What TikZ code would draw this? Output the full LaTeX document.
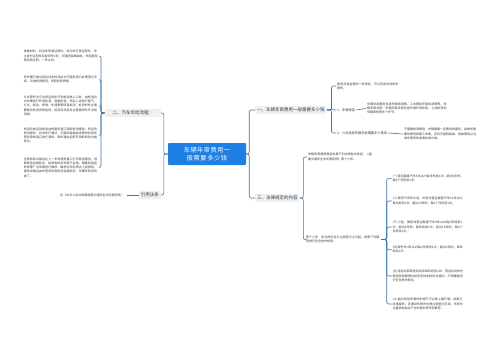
\documentclass[tikz,border=0pt]{standalone}
\usepackage{fontspec}
\setmainfont{Noto Sans CJK SC}
\XeTeXlinebreaklocale "zh"
\XeTeXlinebreakskip=0pt plus 0.5pt
\definecolor{rootblue}{HTML}{1E80E4}
\definecolor{linkblue}{HTML}{3A74AE}
\definecolor{boxgray}{HTML}{EFF0F2}
\definecolor{txt}{HTML}{3A3A3A}
\tikzset{
  rootnode/.style={fill=rootblue, text=white, font=\fontsize{6.2}{8.5}\selectfont, align=center, text width=70pt, minimum width=78pt, minimum height=22pt, inner sep=0pt, rounded corners=0.8pt},
  topic/.style={fill=boxgray, text=txt, font=\fontsize{4.5}{5.5}\selectfont, inner xsep=2pt, inner ysep=2pt, rounded corners=0.8pt},
  subtopic/.style={text=txt, font=\fontsize{3.2}{4.2}\selectfont, inner sep=1pt},
  leaf/.style={text=txt, font=\fontsize{3}{4.3}\selectfont, align=left, inner sep=1pt, text width=#1},
  link/.style={draw=linkblue, line width=0.6pt, rounded corners=2pt},
}
\begin{document}
\begin{tikzpicture}[x=1pt,y=-1pt]
\useasboundingbox[fill=white] (0,0) rectangle (500,360);

% root and first level
\node[rootnode] (root) at (207,154) {车辆年审费用一般需要多少钱};
\node[topic, anchor=east, minimum width=56pt] (t2) at (161,113) {二、汽车年检流程：};
\node[topic, anchor=east] (tref) at (161,195) {引用法条};
\node[topic, anchor=west] (t1) at (255,110) {一、车辆年审费用一般需要多少钱};
\node[topic, anchor=west] (t3) at (255,198) {三、法律规定的内容};

\draw[link] (root.west) -- ++(-4,0) |- (t2.east);
\draw[link] (root.west) -- ++(-4,0) |- (tref.east);
\draw[link] (root.east) -- ++(3,0) |- (t1.west);
\draw[link] (root.east) -- ++(3,0) |- (t3.west);

% left branch: 二
\node[leaf=74pt, anchor=east] (a) at (99,56) {准备材料：机动车驾驶证原件、机动车行驶证原件、车主身份证原件及复印件1份、交强险保单副本、车船使用税完税证明，一年以内。};
\node[leaf=74pt, anchor=east] (b) at (99,79.7) {凭车辆行驶证到机动车检测站大厅服务窗口办理登记手续，交纳检测费用，领取检验表格。};
\node[leaf=74pt, anchor=east] (c) at (99,105.7) {从车管所大厅出来后将车开到检测线入口处，由检测员对车辆进行外观检查、底盘检查，然后上线进行尾气、灯光、制动、侧滑、车速表等项目检测，检测时车主需要配合检测员的指挥，检测完毕后车主需要把车开出检测线。};
\node[leaf=74pt, anchor=east] (d) at (99,135.3) {检测完成后到检测站的服务窗口领取检测报告，然后凭检测报告、机动车行驶证、交强险保单副本等材料到车管所审核窗口进行审核，审核通过后即可领取检验合格标志。};
\node[leaf=74pt, anchor=east] (e) at (99,167.5) {全部检验合格后在上一步的服务窗口打印检测报告，领取检验合格标志。如果有检测项目不合格，需要到指定的修理厂对车辆进行维修，维修完毕后再次上线复检，复检合格后由车管所核发检验合格标志，车辆年检就完成了。};
\foreach \n in {a,b,c,d,e}
  \draw[link] (t2.west) -- (101,113) |- (\n.east);

% reference
\node[leaf=66pt, anchor=east] (r1) at (127,195) {[1]《中华人民共和国道路交通安全法实施条例》};
\draw[link] (tref.west) -- (r1.east);

% right branch: 一
\node[leaf=62pt, anchor=west] (c1) at (336,86) {费用没有金额的一段规定，可以咨询当地的车管所。};
\node[subtopic, anchor=west] (c2) at (336,110) {1、车辆审查};
\node[subtopic, anchor=west] (c3) at (336,133) {2、六年免检车辆年检需要多少费用};
\foreach \n in {c1,c2,c3}
  \draw[link] (t1.east) -- (331.5,110) |- (\n.west);
\node[leaf=80pt, anchor=west] (c2l) at (366,108.5) {车辆年审费用包括车辆检测费、工本费和环保检测费等。车辆年审流程：车辆年审流程包括车辆外观检查、上线检测和车辆审核等多个环节。};
\draw[link] (c2.east) -- (c2l.west);
\node[leaf=72pt, anchor=west] (c3l) at (403,134) {不需要检测费用，车辆需要一定费用的服务，具体所需要的费用就是工本费，还有交强险保单，具体费用以当地车管所的收费标准为准。};
\draw[link] (c3.east) -- (c3l.west);

% right branch: 三
\node[leaf=64pt, anchor=west] (s1) at (307,157) {车辆年审费用规定依据下列法律有关规定：《道路交通安全法实施条例》第十六条。};
\node[leaf=74pt, anchor=west] (s2) at (305,239.5) {第十六条　机动车应当从注册登记之日起，按照下列期限进行安全技术检验：};
\foreach \n in {s1,s2}
  \draw[link] (t3.east) -- (303.3,198) |- (\n.west);

\node[leaf=71pt, anchor=west] (i1) at (391.5,178.3) {(一)营运载客汽车5年以内每年检验1次；超过5年的，每6个月检验1次；};
\node[leaf=71pt, anchor=west] (i2) at (391.5,201) {(二)载货汽车和大型、中型非营运载客汽车10年以内每年检验1次；超过10年的，每6个月检验1次；};
\node[leaf=71pt, anchor=west] (i3) at (391.5,227) {(三)小型、微型非营运载客汽车6年以内每2年检验1次；超过6年的，每年检验1次；超过15年的，每6个月检验1次；};
\node[leaf=71pt, anchor=west] (i4) at (391.5,249.7) {(四)摩托车4年以内每2年检验1次；超过4年的，每年检验1次；};
\node[leaf=71pt, anchor=west] (i5) at (391.5,276) {(五)拖拉机和其他机动车每年检验1次。营运机动车在规定检验期限内经安全技术检验合格的，不再重复进行安全技术检验。};
\node[leaf=71pt, anchor=west] (i6) at (391.5,304) {(六)超过检验年限的车辆不可以再上路行驶，如果已经报废的，还要到车管所办理注销登记手续，否则车主要承担由此产生的相关责任和费用。};
\foreach \n in {i1,i2,i3,i4,i5,i6}
  \draw[link] (s2.east) -- (386.7,239.5) |- (\n.west);
\end{tikzpicture}
\end{document}
